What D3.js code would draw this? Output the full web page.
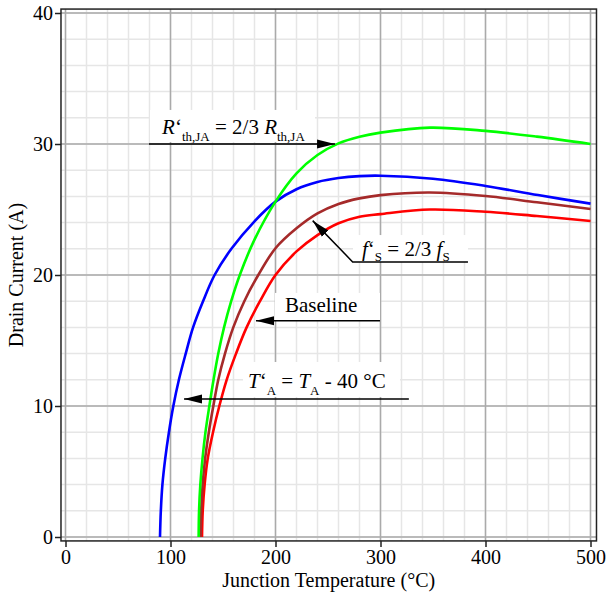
<!DOCTYPE html>
<html>
<head>
<meta charset="utf-8">
<script src="https://cdn.jsdelivr.net/npm/d3@7"></script>
<style>
body { margin: 0; background: #fff; }
svg { display: block; }
text { font-family: "Liberation Serif", "Times New Roman", serif; }
</style>
</head>
<body>
<script>
// Drain current vs junction temperature for four design variants
// values

var xTicks = [0, 100, 200, 300, 400, 500];
var yTicks = [0, 10, 20, 30, 40];

// baseline (red)
var baseT = [130, 130.7, 132.5, 135.5, 140.5, 146.5, 153.5, 162.4, 172.5, 185.2, 200, 220, 240, 260, 280, 300, 347, 400, 449, 500];
var baseI = [0, 2, 4, 6, 8, 10, 12, 14, 16, 18, 20, 21.8, 23.05, 23.95, 24.45, 24.65, 25.0, 24.83, 24.5, 24.12];

// T'A = TA - 40 °C (blue)
var ambT = [90, 90.8, 92.3, 95, 98.5, 102.7, 108, 114.5, 121.5, 131, 142, 158, 180, 200, 220, 240, 260, 280, 300, 350, 400, 450, 500];
var ambI = [0, 2, 4, 6, 8, 10, 12, 14, 16, 18, 20, 22, 24.1, 25.6, 26.55, 27.1, 27.4, 27.55, 27.58, 27.35, 26.8, 26.1, 25.45];

// R'th,JA = 2/3 Rth,JA (green)
var rthT = [126.8, 127.2, 128.4, 130.5, 133.3, 137, 141, 145.5, 151, 157.8, 166, 180, 200, 220, 240, 260, 280, 300, 347, 400, 449, 500];
var rthI = [0, 2, 4, 6, 8, 10, 12, 14, 16, 18, 20, 22.7, 25.6, 27.76, 29.16, 30.05, 30.56, 30.87, 31.25, 31.0, 30.56, 30.0];

// f'S = 2/3 fS (brown)
var fsT = [128.7, 129.2, 130.6, 133, 136.5, 140.8, 145.5, 151.9, 159.8, 170.3, 183.6, 200, 220, 240, 260, 280, 300, 347, 400, 449, 500];
var fsI = [0, 2, 4, 6, 8, 10, 12, 14, 16, 18, 20, 22.04, 23.56, 24.7, 25.42, 25.85, 26.1, 26.3, 26.03, 25.55, 25.04];

var series = [
  {t: baseT, i: baseI, color: "#ff0000"},
  {t: fsT, i: fsI, color: "#a52a2a"},
  {t: ambT, i: ambI, color: "#0000ff"},
  {t: rthT, i: rthI, color: "#00ff00"}
];

var W = 608, H = 597;
var x = d3.scaleLinear().domain([0, 500]).range([65.5, 590.5]);
var y = d3.scaleLinear().domain([0, 40]).range([537, 13]);
var fl = x(-4.3), fr = x(505.7), ft = y(40.3), fb = y(-0.3);

var svg = d3.select("body").append("svg")
  .attr("width", W)
  .attr("height", H);

svg.append("defs").append("marker")
  .attr("id", "head")
  .attr("markerUnits", "userSpaceOnUse")
  .attr("viewBox", "0 -5 18 10")
  .attr("refX", 18).attr("refY", 0)
  .attr("markerWidth", 18).attr("markerHeight", 10)
  .attr("orient", "auto")
  .append("path")
  .attr("d", "M0,-4.5L18,0L0,4.5Z")
  .attr("fill", "#000");

// grid
var grid = svg.append("g");
grid.selectAll(".mx").data(d3.range(0, 501, 20)).enter().append("line")
  .attr("x1", d => x(d)).attr("x2", d => x(d))
  .attr("y1", ft).attr("y2", fb)
  .attr("stroke", "#e6e6e6").attr("stroke-width", 1.5);
grid.selectAll(".my").data(d3.range(0, 41, 2)).enter().append("line")
  .attr("x1", fl).attr("x2", fr)
  .attr("y1", d => y(d)).attr("y2", d => y(d))
  .attr("stroke", "#e6e6e6").attr("stroke-width", 1.5);
grid.selectAll(".Mx").data(xTicks).enter().append("line")
  .attr("x1", d => x(d)).attr("x2", d => x(d))
  .attr("y1", ft).attr("y2", fb)
  .attr("stroke", "#aaaaaa").attr("stroke-width", 1.5);
grid.selectAll(".My").data(yTicks).enter().append("line")
  .attr("x1", fl).attr("x2", fr)
  .attr("y1", d => y(d)).attr("y2", d => y(d))
  .attr("stroke", "#aaaaaa").attr("stroke-width", 1.5);

// annotation boxes, in data units: [t0, i0, t1, i1]
var notes = [
  {box: [80.5, 32.6, 237.6, 30.15], at: [92, 30.8], sub: 7,
   parts: [["R", "i"], ["\u2018"], ["th,JA", "s"], [" = 2/3 "], ["R", "i"], ["th,JA", "s"]],
   path: [[79.5, 30], [256.7, 30]]},
  {box: [273.8, 23.05, 383.3, 20.99], at: [282.4, 21.45], sub: 5,
   parts: [["f", "i"], ["\u2018"], ["S", "s"], [" = 2/3 "], ["f", "i"], ["S", "s"]],
   path: [[383.3, 21.0], [273.5, 21.0], [235.4, 24.15]]},
  {box: [199.5, 18.63, 299.5, 16.56], at: [209, 17.18], sub: 0,
   parts: [["Baseline"]],
   path: [[299.5, 16.5], [181.4, 16.5]]},
  {box: [169, 13.36, 318.6, 10.69], at: [173.8, 11.37], sub: 7,
   parts: [["T", "i"], ["\u2018"], ["A", "s"], [" = "], ["T", "i"], ["A", "s"], [" - 40 \u00b0C"]],
   path: [[327, 10.53], [112.9, 10.53]]}
];

svg.append("g").selectAll("rect").data(notes).enter().append("rect")
  .attr("x", d => x(d.box[0])).attr("y", d => y(d.box[1]))
  .attr("width", d => x(d.box[2]) - x(d.box[0]))
  .attr("height", d => y(d.box[3]) - y(d.box[1]))
  .attr("fill", "#fff");

// curves
var line = d3.line()
  .x(d => x(d[0])).y(d => y(d[1]))
  .curve(d3.curveCatmullRom.alpha(0.5));

svg.append("g").selectAll("path").data(series).enter().append("path")
  .attr("d", d => line(d3.zip(d.t, d.i)))
  .attr("fill", "none")
  .attr("stroke", d => d.color)
  .attr("stroke-width", 2.6);

// arrows
var pl = d3.line().x(d => x(d[0])).y(d => y(d[1]));
svg.append("g").selectAll("path").data(notes).enter().append("path")
  .attr("d", d => pl(d.path))
  .attr("fill", "none")
  .attr("stroke", "#000")
  .attr("stroke-width", 1.5)
  .attr("marker-end", "url(#head)");

// labels
notes.forEach(function(n) {
  var t = svg.append("text")
    .attr("x", x(n.at[0])).attr("y", y(n.at[1]))
    .attr("font-size", 21);
  var low = false;
  n.parts.forEach(function(p) {
    var s = t.append("tspan").text(p[0]);
    if (p[1] == "i") s.attr("font-style", "italic");
    if (p[1] == "s") {
      s.attr("font-size", 13).attr("dy", n.sub);
      low = true;
    } else if (low) {
      s.attr("dy", -n.sub);
      low = false;
    }
  });
});

// axes
var font = "'Liberation Serif', 'Times New Roman', serif";
svg.append("g")
  .attr("transform", "translate(0," + fb + ")")
  .call(d3.axisBottom(x).tickValues(xTicks).tickSize(6).tickPadding(3))
  .call(g => g.select(".domain").remove())
  .attr("font-family", font).attr("font-size", 20)
  .call(g => g.selectAll("line").attr("stroke", "#222").attr("stroke-width", 1.5))
  .call(g => g.selectAll("text").attr("fill", "#000"));

svg.append("g")
  .attr("transform", "translate(" + fl + ",0)")
  .call(d3.axisLeft(y).tickValues(yTicks).tickSize(6).tickPadding(2))
  .call(g => g.select(".domain").remove())
  .attr("font-family", font).attr("font-size", 20)
  .call(g => g.selectAll("line").attr("stroke", "#222").attr("stroke-width", 1.5))
  .call(g => g.selectAll("text").attr("fill", "#000"));

// frame
svg.append("rect")
  .attr("x", fl).attr("y", ft)
  .attr("width", fr - fl).attr("height", fb - ft)
  .attr("fill", "none")
  .attr("stroke", "#222")
  .attr("stroke-width", 1.5);

svg.append("text")
  .attr("x", (fl + fr) / 2).attr("y", 587)
  .attr("text-anchor", "middle")
  .attr("font-size", 20)
  .text("Junction Temperature (\u00b0C)");

svg.append("text")
  .attr("transform", "translate(23," + (ft + fb) / 2 + ")rotate(-90)")
  .attr("text-anchor", "middle")
  .attr("font-size", 20)
  .text("Drain Current (A)");
</script>
</body>
</html>
